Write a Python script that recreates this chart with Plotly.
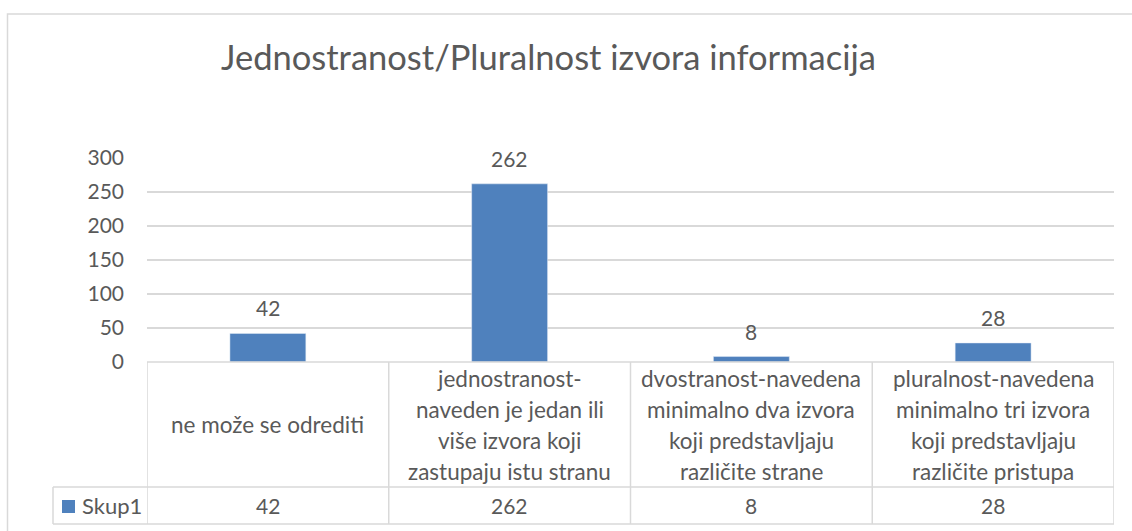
import plotly.graph_objects as go

# ---------------- data ----------------
title_text = "Jednostranost/Pluralnost izvora informacija"
series_name = "Skup1"
category_lines = [
    ["ne može se odrediti"],
    ["jednostranost-", "naveden je jedan ili", "više izvora koji", "zastupaju istu stranu"],
    ["dvostranost-navedena", "minimalno dva izvora", "koji predstavljaju", "različite strane"],
    ["pluralnost-navedena", "minimalno tri izvora", "koji predstavljaju", "različite pristupa"],
]
categories = [" ".join(l) for l in category_lines]
values = [42, 262, 8, 28]
y_ticks = [0, 50, 100, 150, 200, 250, 300]

# ---------------- styling ----------------
W, H = 1132, 531
L, R, T, B = 147, 1114, 158, 362  # plot area in px
FONT = "Lato"
TXT = "#595959"
GRID = "#d9d9d9"
BAR = "#4F81BD"


def px_x(px):
    return (px - L) / (R - L)


def px_y(py):
    return (B - py) / (B - T)


idx = list(range(len(categories)))

fig = go.Figure()
fig.add_trace(go.Bar(x=idx, y=values, name=series_name, marker_color=BAR,
                     width=0.314, showlegend=False, hoverinfo="skip"))

annotations = []
shapes = []

# data labels
for i, v in zip(idx, values):
    annotations.append(dict(x=i, y=v, xref="x", yref="y", text=str(v), showarrow=False,
                            yanchor="bottom", yshift=11,
                            font=dict(family=FONT, size=21, color=TXT)))

# title
annotations.append(dict(x=px_x(548), y=px_y(56), xref="paper", yref="paper", text=title_text,
                        showarrow=False, xanchor="center", yanchor="middle",
                        font=dict(family=FONT, size=34.5, color=TXT)))

# data table: header row 362..487, value row 487..524
row_top, row_mid, row_bot = 362, 487, 524
pitch = 31
for i, lines in zip(idx, category_lines):
    n = len(lines)
    center = (row_top + row_mid) / 2
    for k, line in enumerate(lines):
        cy = center + (k - (n - 1) / 2) * pitch
        annotations.append(dict(x=i, y=px_y(cy), xref="x", yref="paper", text=line,
                                showarrow=False, xanchor="center", yanchor="middle",
                                font=dict(family=FONT, size=22.5, color=TXT)))
    annotations.append(dict(x=i, y=px_y((row_mid + row_bot) / 2), xref="x", yref="paper",
                            text=str(values[i]), showarrow=False, xanchor="center",
                            yanchor="middle", font=dict(family=FONT, size=21, color=TXT)))

# legend key in the table
annotations.append(dict(x=px_x(80), y=px_y(505.5), xref="paper", yref="paper", text=series_name,
                        showarrow=False, xanchor="left", yanchor="middle",
                        font=dict(family=FONT, size=22, color=TXT)))
shapes.append(dict(type="rect", xref="paper", yref="paper", x0=px_x(62), x1=px_x(75),
                   y0=px_y(513), y1=px_y(500), fillcolor=BAR, line=dict(width=0)))

line_style = dict(color=GRID, width=1.5)
# table horizontal lines
shapes.append(dict(type="line", xref="paper", yref="paper", x0=0, x1=1,
                   y0=px_y(row_top), y1=px_y(row_top), line=line_style))
for yy in (row_mid, row_bot):
    shapes.append(dict(type="line", xref="paper", yref="paper", x0=px_x(53), x1=1,
                       y0=px_y(yy), y1=px_y(yy), line=line_style))
shapes.append(dict(type="line", xref="paper", yref="paper", x0=px_x(53), x1=px_x(53),
                   y0=px_y(row_mid), y1=px_y(row_bot), line=line_style))
# column dividers
for k in range(len(categories) + 1):
    shapes.append(dict(type="line", xref="x", yref="paper", x0=k - 0.5, x1=k - 0.5,
                       y0=px_y(row_top), y1=px_y(row_bot), line=line_style))

# outer chart border
shapes.append(dict(type="rect", xref="paper", yref="paper", x0=px_x(7.5), x1=px_x(1145),
                   y0=px_y(545), y1=px_y(14), line=dict(color=GRID, width=1.5),
                   fillcolor="rgba(0,0,0,0)", layer="below"))

fig.update_layout(
    width=W, height=H,
    margin=dict(l=L, r=W - R, t=T, b=H - B, pad=0),
    paper_bgcolor="white", plot_bgcolor="white",
    xaxis=dict(range=[-0.5, len(categories) - 0.5], showticklabels=False, showgrid=False,
               zeroline=False, showline=False, ticks=""),
    yaxis=dict(range=[0, 300], tickvals=y_ticks, showgrid=True, gridcolor=GRID, gridwidth=1.5,
               zeroline=False, showline=False, ticks="", ticklabelstandoff=22,
               tickfont=dict(family=FONT, size=21, color=TXT)),
    annotations=annotations,
    shapes=shapes,
    showlegend=False,
)

fig.write_html("out.html", config={"displayModeBar": False},
               post_script="document.body.style.margin='0';document.body.style.overflow='hidden';")
